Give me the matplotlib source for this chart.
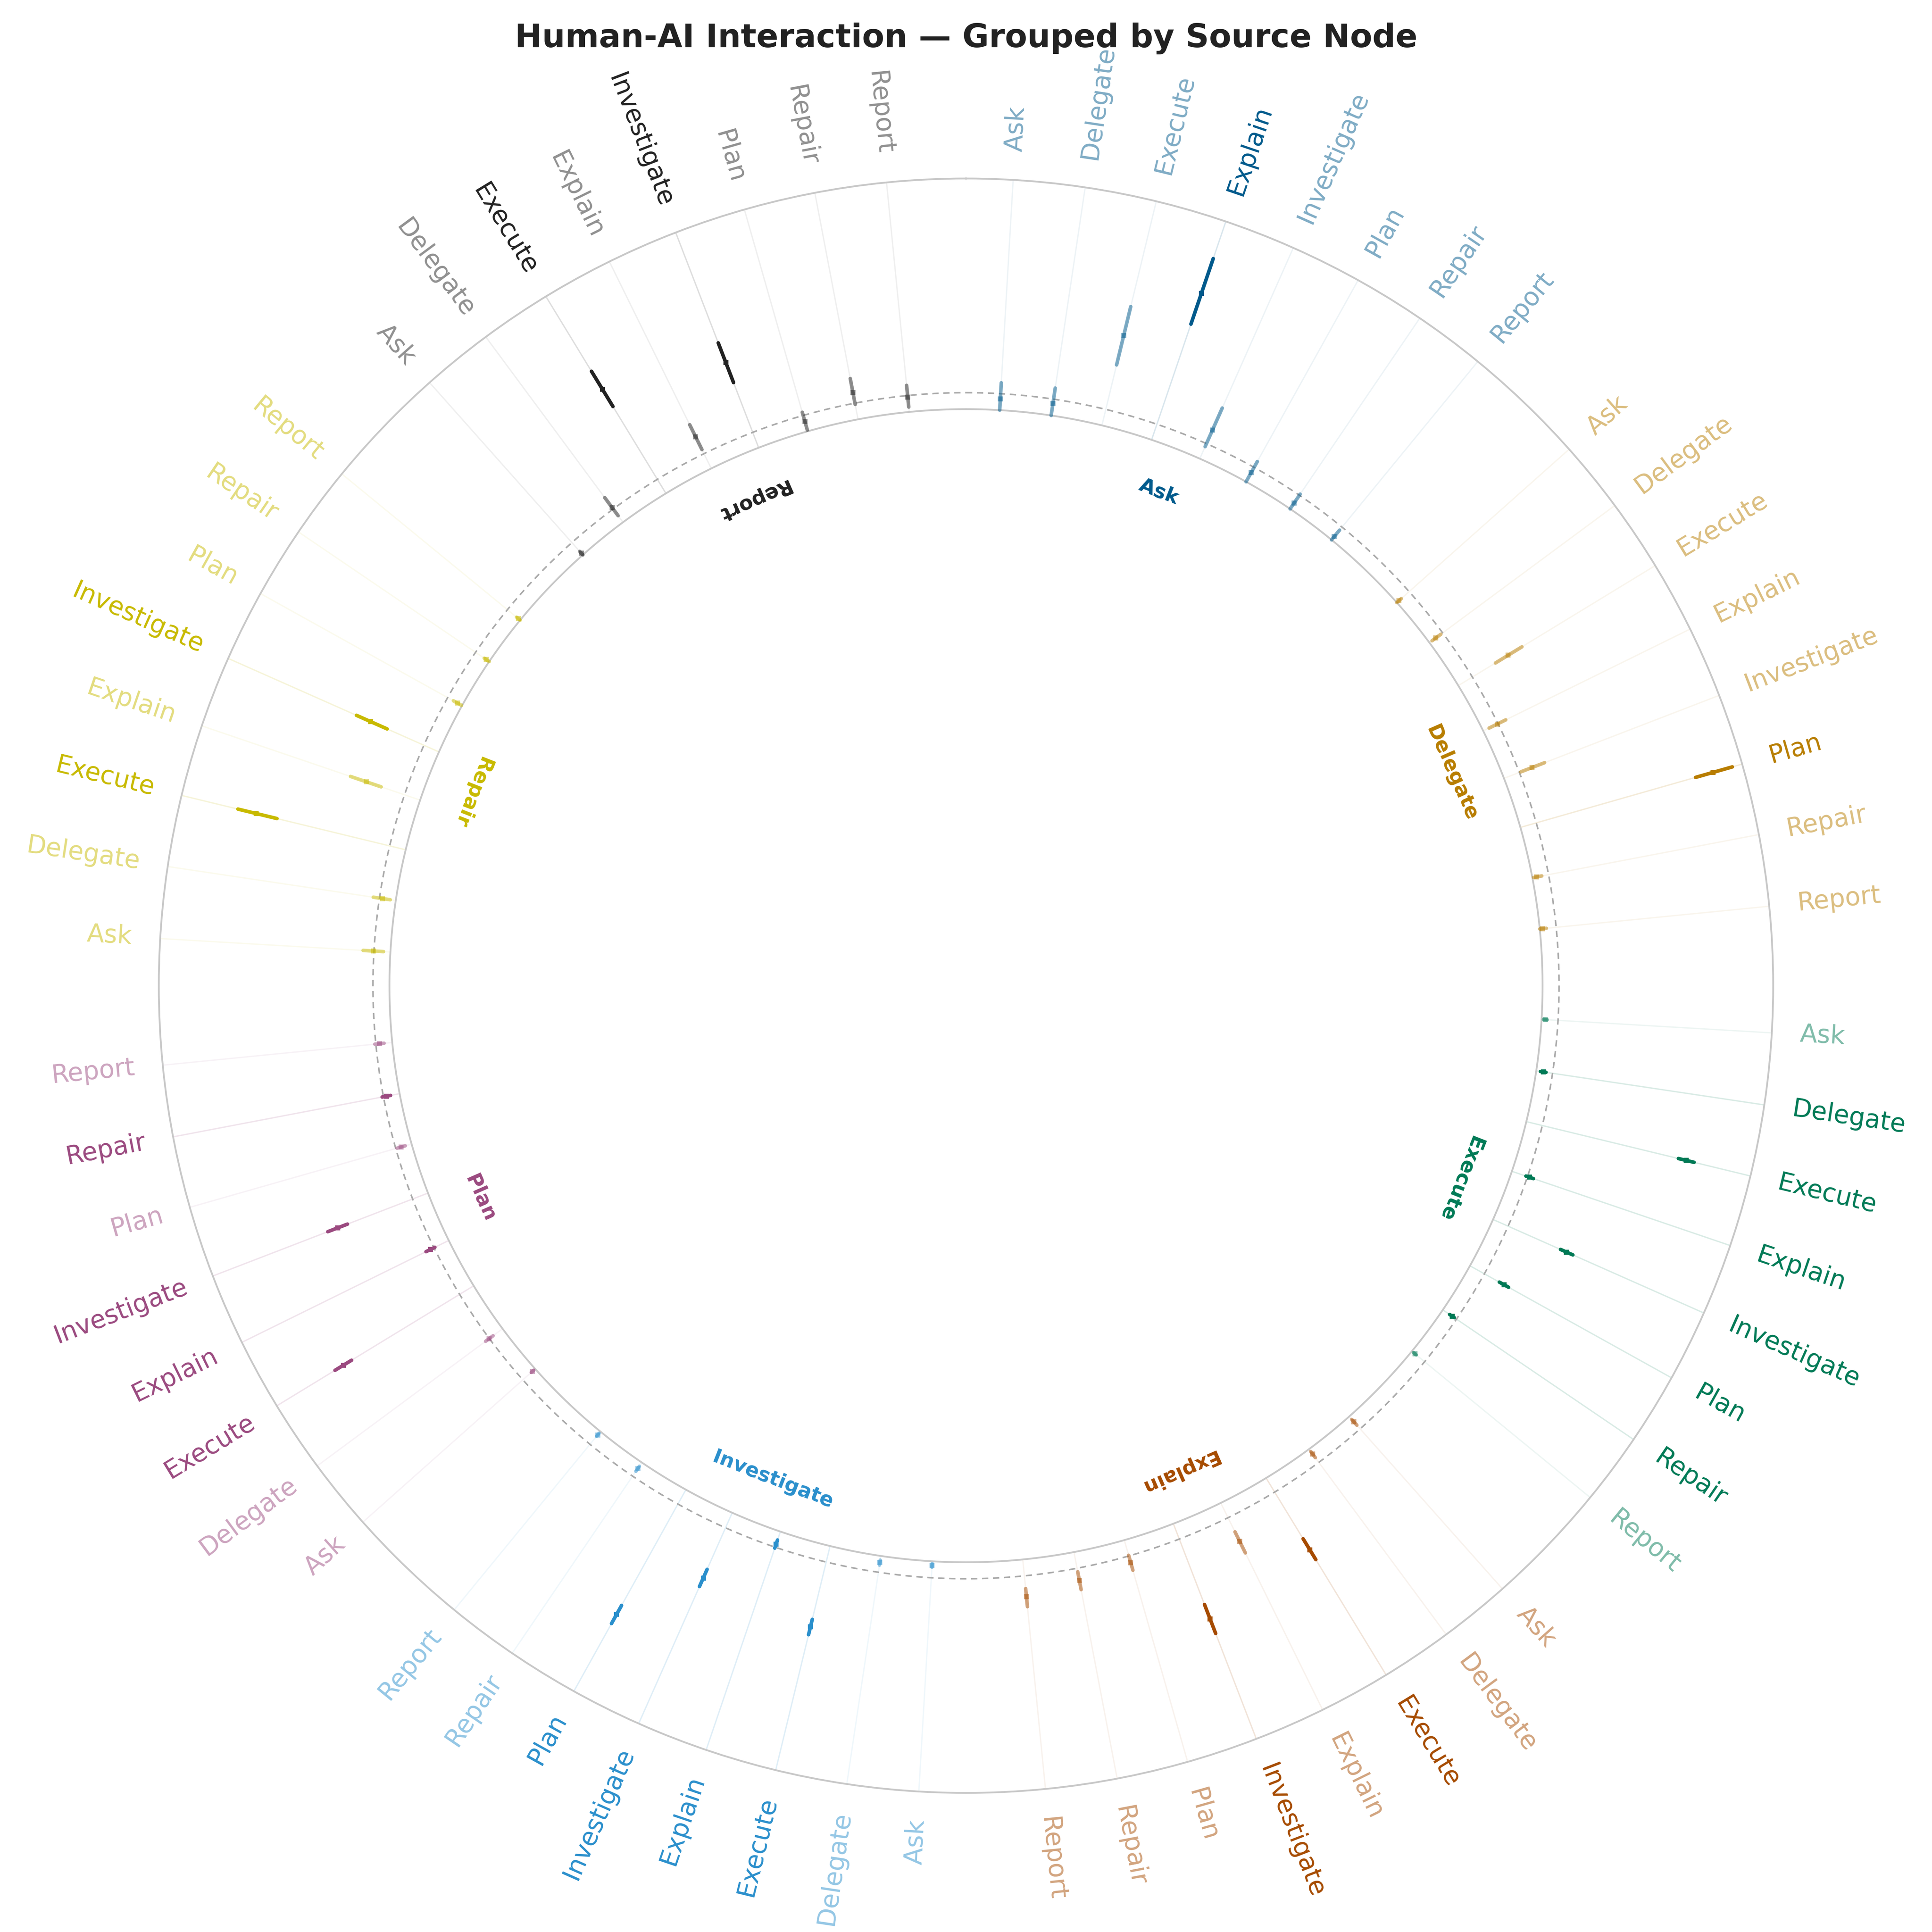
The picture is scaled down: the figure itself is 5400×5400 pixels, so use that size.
import numpy as np
import matplotlib.pyplot as plt

# nodes of the interaction graph (source = ring sector, target = spoke)
nodes = ['Ask', 'Delegate', 'Execute', 'Explain', 'Investigate', 'Plan', 'Repair', 'Report']
node_colors = ['#005a8c', '#b87d00', '#007a56', '#a64b00',
               '#2a8fcc', '#9b4a80', '#c8ba00', '#222222']

# transition probability source -> target (rows = source, cols = target)
p_mid = np.array([
    [0.034, 0.037, 0.280, 0.469, 0.095, 0.032, 0.021, 0.013],  # Ask
    [0.008, 0.024, 0.177, 0.048, 0.091, 0.608, 0.013, 0.008],  # Delegate
    [0.011, 0.022, 0.499, 0.056, 0.244, 0.118, 0.034, 0.012],  # Execute
    [0.021, 0.019, 0.255, 0.130, 0.310, 0.071, 0.087, 0.114],  # Explain
    [0.012, 0.020, 0.252, 0.040, 0.217, 0.433, 0.022, 0.013],  # Investigate
    [0.011, 0.051, 0.463, 0.062, 0.294, 0.033, 0.041, 0.039],  # Plan
    [0.051, 0.041, 0.467, 0.172, 0.227, 0.016, 0.011, 0.007],  # Repair
    [0.007, 0.055, 0.370, 0.107, 0.277, 0.031, 0.083, 0.045],  # Report
])
# lower / upper bound of the interval
p_lo = np.array([
    [0.000, 0.000, 0.189, 0.371, 0.040, 0.000, 0.000, 0.000],
    [0.000, 0.010, 0.132, 0.020, 0.055, 0.553, 0.004, 0.000],
    [0.006, 0.013, 0.475, 0.045, 0.224, 0.102, 0.025, 0.007],
    [0.012, 0.009, 0.216, 0.098, 0.263, 0.048, 0.061, 0.089],
    [0.007, 0.013, 0.229, 0.027, 0.188, 0.402, 0.014, 0.007],
    [0.006, 0.036, 0.434, 0.047, 0.262, 0.020, 0.028, 0.025],
    [0.021, 0.017, 0.402, 0.125, 0.172, 0.002, 0.000, 0.000],
    [0.000, 0.025, 0.309, 0.064, 0.212, 0.004, 0.046, 0.015],
])
p_hi = np.array([
    [0.083, 0.084, 0.371, 0.581, 0.168, 0.070, 0.054, 0.038],
    [0.018, 0.043, 0.226, 0.076, 0.132, 0.669, 0.029, 0.020],
    [0.017, 0.030, 0.524, 0.069, 0.265, 0.134, 0.042, 0.017],
    [0.035, 0.032, 0.290, 0.169, 0.357, 0.095, 0.116, 0.144],
    [0.018, 0.028, 0.277, 0.053, 0.245, 0.465, 0.032, 0.018],
    [0.016, 0.064, 0.493, 0.077, 0.326, 0.046, 0.054, 0.053],
    [0.083, 0.069, 0.524, 0.223, 0.274, 0.030, 0.018, 0.014],
    [0.014, 0.093, 0.434, 0.148, 0.341, 0.060, 0.126, 0.081],
])
# emphasised transitions (drawn in full colour)
strong = np.array([
    [0, 0, 0, 1, 0, 0, 0, 0],
    [0, 0, 0, 0, 0, 1, 0, 0],
    [0, 1, 1, 1, 1, 1, 1, 0],
    [0, 0, 1, 0, 1, 0, 0, 0],
    [0, 0, 1, 1, 1, 1, 0, 0],
    [0, 0, 1, 1, 1, 0, 1, 0],
    [0, 0, 1, 0, 1, 0, 0, 0],
    [0, 0, 1, 0, 1, 0, 0, 0],
], dtype=bool)

threshold = 0.05   # dashed reference ring
r_top = 0.70       # outer ring
r_hole = -1.75     # empty centre

n = len(nodes)
step = 360 / (n * (n + 0.75))   # degrees between spokes
first = 3.35                    # offset of first spoke in a sector

fig = plt.figure(figsize=(12, 12), dpi=450)
ax = fig.add_axes([0.0822, 0.072, 0.8356, 0.8356], projection='polar')
ax.set_theta_zero_location('N')
ax.set_theta_direction(-1)
ax.set_ylim(r_hole, r_top)
ax.set_xticks([])
ax.set_yticks([])
ax.grid(False)
ax.spines['polar'].set_color('#c8c8c8')
ax.spines['polar'].set_linewidth(0.8)

# inner ring and threshold ring
tt = np.linspace(0, 2 * np.pi, 721)
ax.plot(tt, np.zeros_like(tt), color='#c8c8c8', lw=0.8, zorder=2)
ax.plot(tt, np.full_like(tt, threshold), color='#aaaaaa', lw=0.7, dashes=(4, 3), zorder=2)

r_lab = r_hole + 1.035 * (r_top - r_hole)
r_src = r_hole + 0.657 * (r_top - r_hole)

for i, src in enumerate(nodes):
    c = node_colors[i]
    for j, tgt in enumerate(nodes):
        deg = 45 * i + first + step * j
        th = np.deg2rad(deg)
        a = 1.0 if strong[i, j] else 0.5

        # spoke
        ax.plot([th, th], [0, r_top], color=c, alpha=0.15 if strong[i, j] else 0.07,
                lw=0.6, zorder=1)
        # interval + point estimate
        ax.plot([th, th], [p_lo[i, j], p_hi[i, j]], color=c, alpha=a, lw=1.6,
                solid_capstyle='round', zorder=3)
        ax.plot([th], [p_mid[i, j]], marker='s', ms=2.2, mew=0, color=c, alpha=a, zorder=4)

        # target label
        if deg < 180:
            rot, ha = 90 - deg, 'left'
        else:
            rot, ha = 270 - deg, 'right'
        ax.text(th, r_lab, tgt, color=c, alpha=a, fontsize=11.3, rotation=rot,
                rotation_mode='anchor', ha=ha, va='center')

    # source label inside the ring
    mid_deg = 45 * i + first + step * 3.5
    rot = -mid_deg if mid_deg < 180 else 180 - mid_deg
    ax.text(np.deg2rad(mid_deg), r_src, src, color=c, fontsize=9, fontweight='bold',
            rotation=rot, rotation_mode='anchor', ha='center', va='center')

fig.text(0.5, 0.98, 'Human-AI Interaction — Grouped by Source Node',
         ha='center', va='center', fontsize=14.5, fontweight='bold', color='#222222')

fig.savefig('out.png', dpi=450)
